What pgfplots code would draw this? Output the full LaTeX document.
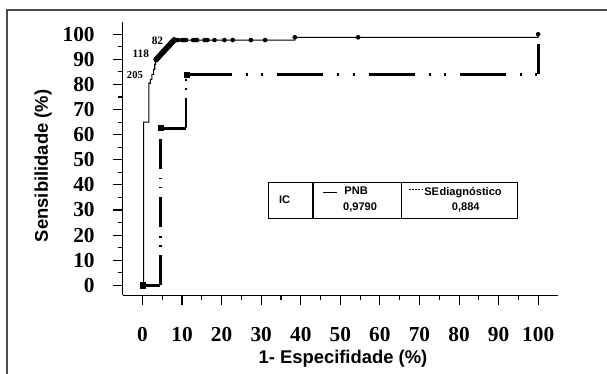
\documentclass[border=0pt]{standalone}
\usepackage{fontspec}
\setmainfont{Liberation Serif}
\setsansfont{Liberation Sans}
\usepackage{pgfplots}
\pgfplotsset{compat=1.18}
\begin{document}
\begin{tikzpicture}
\useasboundingbox (0pt,0pt) rectangle (455.25pt,280.5pt);
\draw[line width=1.1pt, black!70] (5.25pt,-5pt) -- (5.25pt,273pt) -- (460pt,273pt);
\begin{axis}[
  at={(92pt,59pt)}, anchor=south west,
  scale only axis, width=326.5pt, height=205.2pt,
  xmin=-5, xmax=105, ymin=-4, ymax=105,
  axis lines*=left,
  axis line style={line width=1.1pt, -},
  xtick={0,10,...,100}, ytick={0,10,...,100},
  minor x tick num=1, minor y tick num=1,
  tick align=outside,
  major tick length=7.5pt, minor tick length=3.75pt,
  tick style={line width=0.8pt, black},
  ticklabel style={font=\fontsize{16}{17}\selectfont\bfseries},
  /pgf/number format/assume math mode=true,
  xticklabel style={yshift=-13pt},
  yticklabel style={xshift=-10pt},
  clip=false,
  xlabel={1- Especifidade (\%)}, ylabel={Sensibilidade (\%)},
  label style={font=\sffamily\bfseries\fontsize{13.8}{15}\selectfont},
  xlabel style={at={(axis description cs:0.506,-0.232)}, anchor=center},
  ylabel style={at={(axis description cs:-0.183,0.473)}, anchor=center},
]
% PNB line
\addplot[black, line width=0.8pt, line join=miter] coordinates {
(0,0) (0.3,0) (0.3,65) (1.6,65) (1.6,80.5) (2.0,80.5) (2.0,82) (2.4,82) (2.4,84) (2.8,84) (2.8,86) (3.1,86) (3.1,88) (3.3,88) (3.3,90) (3.5,90) (8,97.7) (38.5,97.7) (38.5,98.8) (100,98.8) (100,100)};
% PNB markers (diagonal cluster)
\addplot[only marks, mark=*, mark size=2pt, black] coordinates {
(3.5,90) (3.8,90.5) (4.1,91.0) (4.4,91.5) (4.7,92.1) (5.0,92.6) (5.3,93.1) (5.6,93.6) (5.9,94.1) (6.2,94.6) (6.5,95.1) (6.8,95.6) (7.1,96.2) (7.4,96.7) (7.7,97.2) (8.0,97.7)};
% PNB markers along top
\addplot[only marks, mark=*, mark size=1.5pt, black] coordinates {
(8.5,97.7) (9,97.7) (10,97.7) (10.5,97.7) (11,97.7) (12.8,97.7) (13.3,97.7) (13.8,97.7) (15.7,97.7) (16.4,97.7) (18.2,97.7) (20.7,97.7) (22.8,97.7) (27.4,97.7) (31,97.7) (38.5,98.8) (54.5,98.8) (100,100)};
% SE diagnostico segments
\addplot[black, line width=2.2pt] coordinates {(0,0) (4.5,0)};
\addplot[black, line width=2.2pt, dash pattern=on 22.5pt off 6.5pt on 1.3pt off 5.5pt on 1.3pt off 6.5pt] coordinates {(4.5,0) (4.5,62.5)};
\addplot[black, line width=2.2pt] coordinates {(4.5,62.5) (11,62.5)};
\addplot[black, line width=2.2pt, dash pattern=on 22.5pt off 6.5pt on 1.3pt off 5.5pt on 1.3pt off 6.5pt] coordinates {(11,62.5) (11,84)};
\addplot[black, line width=2.2pt, dash pattern=on 34.5pt off 10.5pt on 1.5pt off 10pt on 1.5pt off 10.5pt] coordinates {(11,84) (100,84)};
\addplot[black, line width=2.2pt, dash pattern=on 22.5pt off 6.5pt on 1.3pt off 5.5pt on 1.3pt off 6.5pt] coordinates {(100,84) (100,96.5)};
% SE squares
\addplot[only marks, mark=square*, mark size=1.9pt, black] coordinates {(0,0) (4.6,62.6) (11.2,83.8)};
% annotations
\node[font=\fontsize{8.5}{9}\selectfont\bfseries] at (axis cs:3.8,97.5) {82};
\node[font=\fontsize{8.5}{9}\selectfont\bfseries] at (axis cs:-0.4,92.2) {118};
\node[font=\fontsize{8}{9}\selectfont\bfseries] at (axis cs:-1.9,83.6) {205};
% legend table
\draw[line width=1.1pt] (axis cs:31.9,26.6) rectangle (axis cs:94.7,40.9);
\draw[line width=1.1pt] (axis cs:43.1,26.6) -- (axis cs:43.1,40.9);
\draw[line width=1.1pt] (axis cs:65.4,26.6) -- (axis cs:65.4,40.9);
\node[font=\sffamily\bfseries\fontsize{8.3}{9}\selectfont] at (axis cs:35.9,34.2) {IC};
\draw[line width=0.8pt] (axis cs:45.7,37.1) -- (axis cs:49.2,37.1);
\node[font=\sffamily\bfseries\fontsize{8.3}{9}\selectfont] at (axis cs:54.0,37.5) {PNB};
\node[font=\sffamily\bfseries\fontsize{8.3}{9}\selectfont] at (axis cs:55.0,31.0) {0,9790};
\draw[line width=0.6pt, dash pattern=on 1.4pt off 1pt] (axis cs:67.3,38.3) -- (axis cs:70.6,38.3);
\node[font=\sffamily\bfseries\fontsize{8.3}{9}\selectfont] at (axis cs:81.0,37.0) {SE\kern0.05em diagnóstico};
\node[font=\sffamily\bfseries\fontsize{8.3}{9}\selectfont] at (axis cs:81.7,31.0) {0,884};
\end{axis}
\end{tikzpicture}
\end{document}
